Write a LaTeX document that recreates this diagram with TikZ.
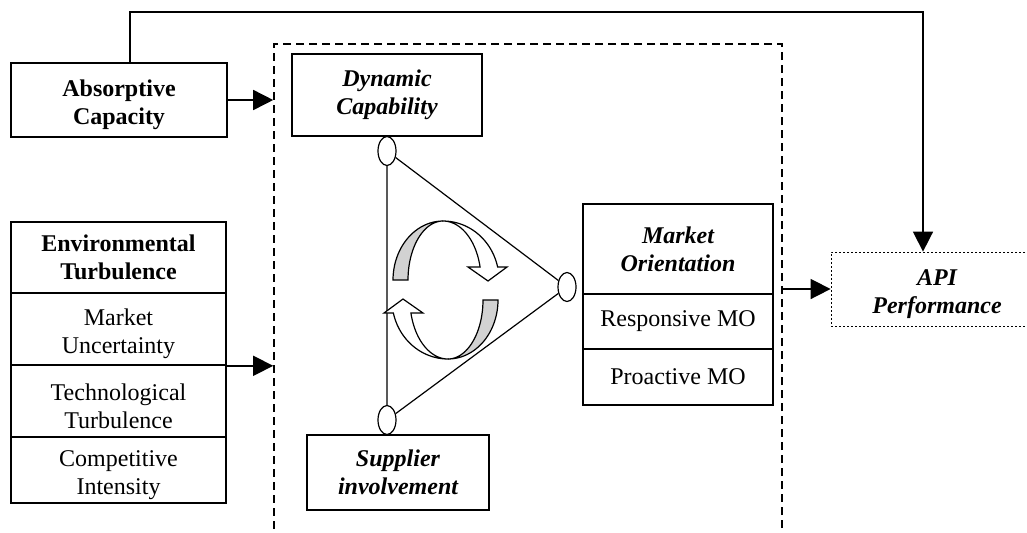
\documentclass[tikz,border=0pt]{standalone}
\usepackage{fontspec}
\setmainfont{Liberation Serif}
\usetikzlibrary{arrows.meta,shapes.geometric}
\tikzset{
  box/.style={draw,line width=0.8pt,align=center,inner sep=0pt,font=\fontsize{12}{14}\selectfont},
  head/.style={box,font=\fontsize{12}{14}\selectfont\bfseries},
  headit/.style={box,font=\fontsize{12}{14}\selectfont\bfseries\itshape},
  low/.style={text height=27.5pt},
  joint/.style={draw,ellipse,line width=0.6pt,inner sep=0pt,minimum width=9pt,minimum height=14.5pt,fill=white},
  arr/.style={line width=0.8pt,-{Triangle[length=10pt,width=10pt]}}
}
\newcommand\turnarrow{%
  \filldraw[line width=0.6pt,fill=gray!35]
    plot[smooth,domain=180:90,samples=25] ({443+50*cos(\x)},{280-59*sin(\x)})
    -- plot[smooth,domain=90:180,samples=25] ({443+35*cos(\x)},{280-59*sin(\x)}) -- cycle;
  \filldraw[line width=0.6pt,fill=white]
    plot[smooth,domain=90:12.7,samples=25] ({443+56*cos(\x)},{280-59*sin(\x)})
    -- (507,267) -- (488,281) -- (468,267)
    -- plot[smooth,domain=12.7:90,samples=25] ({443+38*cos(\x)},{280-59*sin(\x)}) -- cycle;}
\begin{document}
\begin{tikzpicture}[x=0.5pt,y=-0.5pt]
      \useasboundingbox (0,0) rectangle (1027,532);
      \clip (0,0) rectangle (1027,532);
      \draw (528,292) node[draw,line width=0.8pt,dash pattern=on 4pt off 2.5pt,
        minimum width=254pt,minimum height=248pt] (frame){};
      \draw
        (119,100) node[head,low,minimum width=108pt,minimum height=37pt] (abs){Absorptive\\Capacity}
        (118.5,257.5) node[head,minimum width=107.5pt,minimum height=35.5pt] (env){Environmental\\Turbulence}
        (118.5,329) node[box,low,minimum width=107.5pt,minimum height=36pt] (mu){Market\\Uncertainty}
        (118.5,401) node[box,low,minimum width=107.5pt,minimum height=36pt] (tt){Technological\\Turbulence}
        (118.5,470) node[box,low,minimum width=107.5pt,minimum height=33pt] (ci){Competitive\\Intensity}
        (387,95) node[headit,minimum width=95pt,minimum height=41pt] (dc){Dynamic\\Capability}
        (398,472.5) node[headit,minimum width=91pt,minimum height=37.5pt] (si){Supplier\\involvement}
        (678,249) node[headit,minimum width=95pt,minimum height=45pt] (mo){Market\\Orientation}
        (678,321.5) node[box,minimum width=95pt,minimum height=27.5pt] (rmo){Responsive MO}
        (678,377) node[box,minimum width=95pt,minimum height=28pt] (pmo){Proactive MO}
        (937,289) node[headit,low,line width=0.4pt,dash pattern=on 1pt off 1pt,
          minimum width=106pt,minimum height=37pt] (api){API\\Performance};
      \path (387,151) node[joint] (e1){}
        (387,420) node[joint] (e2){}
        (567,287) node[joint] (e3){};
      \draw[line width=0.6pt] (e1) -- (e2) (e1) -- (e3) (e3) -- (e2);
      \turnarrow
      \begin{scope}[rotate around={180:(445.5,290)}]
        \turnarrow
      \end{scope}
      \coordinate (top) at (923,12);
      \begin{scope}[arr]
        \draw ([xshift=5.5pt]abs.north) |- (top) -- (top |- api.north);
        \draw (abs.east) -- (abs.east -| frame.west);
        \draw (mu.south east) -- (mu.south east -| frame.west);
        \draw (frame.east |- api.west) -- (api.west);
      \end{scope}
    \end{tikzpicture}
\end{document}
